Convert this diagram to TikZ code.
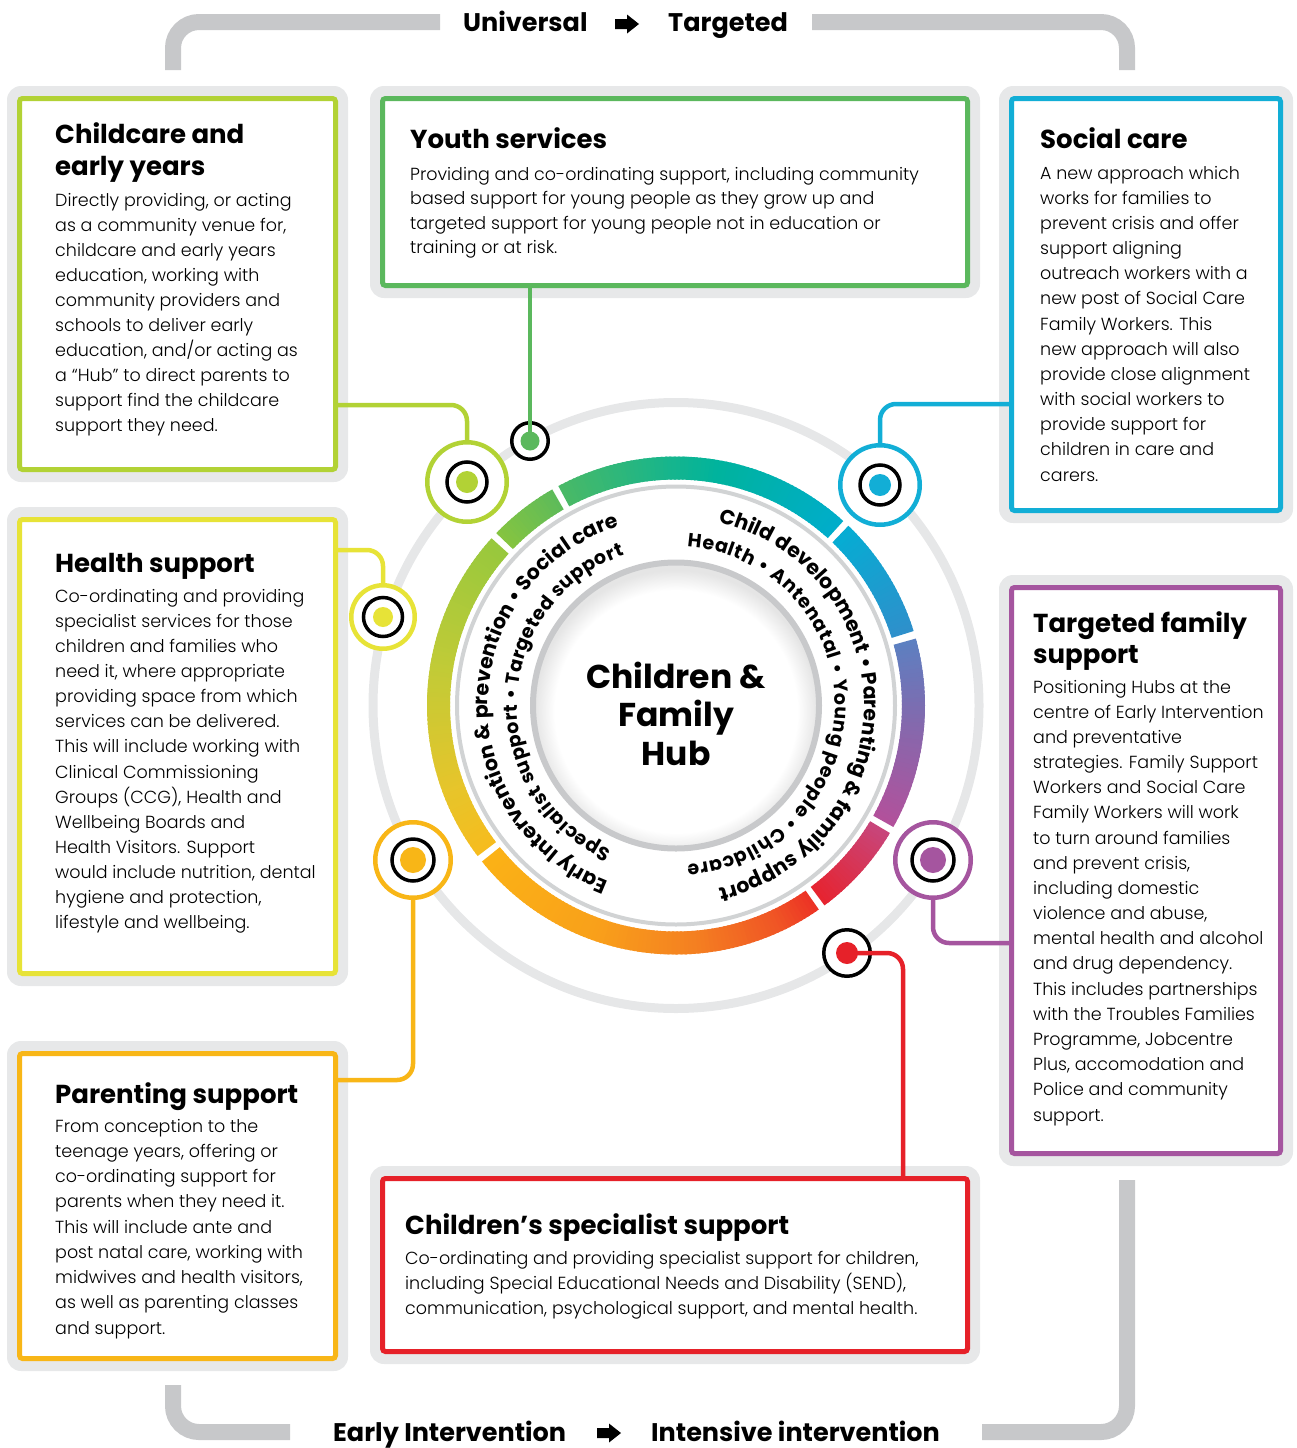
\documentclass[tikz,border=0pt]{standalone}
\usepackage{fontspec}
\setmainfont{Poppins}
\IfFontExistsTF{Poppins Light}{\newfontfamily\bodyfont{Poppins Light}}{\newfontfamily\bodyfont{Poppins}}
\usetikzlibrary{decorations.text}

\definecolor{framegray}{HTML}{E7E8E9}
\definecolor{bracketgray}{HTML}{C7C8CA}
\definecolor{ringgray}{HTML}{E6E7E8}
\definecolor{thingray}{HTML}{D1D3D4}
\definecolor{hubgray}{HTML}{C8C9CB}
\definecolor{cLime}{HTML}{B2D235}
\definecolor{cGreen}{HTML}{5BB85D}
\definecolor{cCyan}{HTML}{12AED6}
\definecolor{cYellow}{HTML}{E7E337}
\definecolor{cPurple}{HTML}{A5559F}
\definecolor{cOrange}{HTML}{F8B617}
\definecolor{cRed}{HTML}{E62129}

\definecolor{cgA}{HTML}{2F8FCB}
\definecolor{cgB}{HTML}{05ADD3}
\definecolor{cgC}{HTML}{00ADCB}
\definecolor{cgD}{HTML}{00B39D}
\definecolor{cgE}{HTML}{4AB966}
\definecolor{cgF}{HTML}{5DBB5A}
\definecolor{cgG}{HTML}{86C440}
\definecolor{cgH}{HTML}{97C83D}
\definecolor{cgI}{HTML}{C0CB37}
\definecolor{cgJ}{HTML}{E6C52B}
\definecolor{cgK}{HTML}{F6BC1E}
\definecolor{cgL}{HTML}{FBB216}
\definecolor{cgM}{HTML}{F9A11A}
\definecolor{cgN}{HTML}{F47F21}
\definecolor{cgO}{HTML}{F05525}
\definecolor{cgP}{HTML}{EC3225}
\definecolor{cgQ}{HTML}{E7232E}
\definecolor{cgR}{HTML}{C7467C}
\definecolor{cgS}{HTML}{B3519B}
\definecolor{cgT}{HTML}{8568AD}
\definecolor{cgU}{HTML}{5C80C1}

\pgfdeclareradialshading{hubsh}{\pgfpoint{0bp}{0bp}}{color(0bp)=(white); color(21.5bp)=(white); color(25bp)=(black!10); color(50bp)=(black!10)}

\newcommand\bodyset[1]{\bodyfont\fontsize{17.5}{#1}\selectfont\raggedright}
\newcommand\headset[1]{\bfseries\fontsize{26}{#1}\selectfont\raggedright}
\newcommand\ringfontA{\bfseries\fontsize{20.5}{20.5}\selectfont}
\newcommand\ringfontB{\bfseries\fontsize{19}{19}\selectfont}

% colored annular segment with linear colour change
\newcommand\cseg[5]{%
  \pgfmathtruncatemacro\rgN{max(1,round((#2-#1)/1.0))}%
  \foreach \k in {1,...,\rgN}{%
    \pgfmathsetmacro\rgA{#1+(#2-#1)*(\k-1)/\rgN}%
    \pgfmathsetmacro\rgB{#1+(#2-#1)*\k/\rgN+ifthenelse(\k==\rgN,#5,0.5)}%
    \pgfmathtruncatemacro\rgP{round(100*(\k-0.5)/\rgN)}%
    \fill[#4!\rgP!#3] (\rgA:226) arc[start angle=\rgA, end angle=\rgB, radius=226]
      -- (\rgB:249) arc[start angle=\rgB, end angle=\rgA, radius=249] -- cycle;
  }}

% box: outer edges of coloured frame x1,y1,x2,y2 (y downwards), colour
\newcommand\hubbox[5]{%
  \fill[framegray, rounded corners=14pt] (#1-10,-#2+10) rectangle (#3+10,-#4-10);
  \draw[#5, line width=5pt, fill=white, rounded corners=3pt] (#1+2.5,-#2-2.5) rectangle (#3-2.5,-#4+2.5);
}

\tikzset{
  bracket/.style={bracketgray, line width=16pt, rounded corners=26pt},
  conn/.style={line width=4.5pt, rounded corners=16pt},
  bigring/.style={circle, draw=#1, line width=4.5pt, fill=white, inner sep=0pt},
  blackring/.style={circle, draw=black, line width=3.5pt, fill=white, inner sep=0pt},
  txt/.style={anchor=base west, inner sep=0pt},
  hdr/.style={anchor=base west, inner sep=0pt, font=\bfseries\fontsize{25.5}{25.5}\selectfont},
  ringtextA/.style={decorate, decoration={text along path, text align=fit to path, text={|\ringfontA|#1}}},
  ringtextB/.style={decorate, decoration={text along path, text align=fit to path, text={|\ringfontB|#1}}}
}

\begin{document}
\begin{tikzpicture}[x=1pt,y=1pt]
\useasboundingbox (0,0) rectangle (1297,-1448);

% brackets
\draw[bracket] (173,-70) -- (173,-22) -- (440,-22);
\draw[bracket] (812,-22) -- (1127,-22) -- (1127,-70);
\draw[bracket] (173,-1385) -- (173,-1432) -- (290,-1432);
\draw[bracket] (982,-1432) -- (1127,-1432) -- (1127,-1180);

% header texts and arrows
\node[hdr] (uni) at (463,-31) {Universal};
\node[hdr] (tar) at (668,-31) {Targeted};
\fill (615,-19) -- (627,-19) -- (627,-14.5) -- (639,-24) -- (627,-33.5) -- (627,-29) -- (615,-29) -- cycle;
\node[hdr] (ear) at (333,-1441) {Early Intervention};
\node[hdr] (int) at (651,-1441) {Intensive intervention};
\fill (597,-1428) -- (609,-1428) -- (609,-1423.5) -- (621,-1433) -- (609,-1442.5) -- (609,-1438) -- (597,-1438) -- cycle;

% boxes
\hubbox{17}{96}{338}{472}{cLime}
\hubbox{380}{96}{970}{288}{cGreen}
\hubbox{1009}{96}{1283}{513}{cCyan}
\hubbox{17}{517}{338}{976}{cYellow}
\hubbox{1009}{585}{1283}{1156}{cPurple}
\hubbox{17}{1051}{338}{1361}{cOrange}
\hubbox{380}{1176}{970}{1354}{cRed}

% central rings
\begin{scope}[shift={(676,-705.5)}]
  \draw[ringgray, line width=9pt] (0,0) circle[radius=303];
  \cseg{17.4}{46.2}{cgA}{cgB}{0}
  \cseg{47.8}{80}{cgC}{cgD}{0.6}
  \cseg{80}{118.2}{cgD}{cgE}{0}
  \cseg{119.8}{136.2}{cgF}{cgG}{0}
  \cseg{137.8}{170}{cgH}{cgI}{0.6}
  \cseg{170}{200}{cgI}{cgJ}{0.6}
  \cseg{200}{217.2}{cgJ}{cgK}{0}
  \cseg{218.8}{250}{cgL}{cgM}{0.6}
  \cseg{250}{275}{cgM}{cgN}{0.6}
  \cseg{275}{295}{cgN}{cgO}{0.6}
  \cseg{295}{305}{cgO}{cgP}{0}
  \cseg{306.6}{329.2}{cgQ}{cgR}{0}
  \cseg{330.8}{355}{cgS}{cgT}{0.6}
  \cseg{355}{375.6}{cgT}{cgU}{0}
  \draw[thingray, line width=4pt] (0,0) circle[radius=219];
  \begin{scope}
    \clip (0,0) circle[radius=142];
    \fill[black!10] (0,0) circle[radius=142];
    \shade[shading=hubsh] (0,-6) circle[radius=141];
  \end{scope}
  \draw[hubgray, line width=6pt] (0,0) circle[radius=143];
  % circular texts
  \path[ringtextA={Child development • Parenting {\&} family support}]
    (77:188) arc[start angle=77, end angle=-76.5, radius=188];
  \path[ringtextB={Health • Antenatal • Young people • Childcare}]
    (86:159) arc[start angle=86, end angle=-86, radius=159];
  \path[ringtextA={Early Intervention {\&} prevention • Social care}]
    (249:188) arc[start angle=249, end angle=107.5, radius=188];
  \path[ringtextB={Specialist support • Targeted support}]
    (246:159) arc[start angle=246, end angle=109, radius=159];
\end{scope}

\node[txt] (hub) at (540,-688) {\parbox[t]{272pt}{\centering\bfseries\fontsize{33}{38.5}\selectfont Children \&\\Family\\Hub}};

% marker circles
\node[bigring=cLime, minimum size=79.5pt] (nLime) at (467,-482) {};
\node[blackring, minimum size=40pt] (nLimeR) at (nLime.center) {};
\node[blackring, minimum size=36.5pt] (nGreen) at (530,-441) {};
\node[bigring=cCyan, minimum size=79.5pt] (nCyan) at (880,-485) {};
\node[blackring, minimum size=40pt] (nCyanR) at (nCyan.center) {};
\node[bigring=cYellow, minimum size=63.5pt] (nYellow) at (383,-617) {};
\node[blackring, minimum size=39pt] (nYellowR) at (nYellow.center) {};
\node[bigring=cOrange, minimum size=75.5pt] (nOrange) at (413,-860) {};
\node[blackring, minimum size=42pt] (nOrangeR) at (nOrange.center) {};
\node[bigring=cPurple, minimum size=75.5pt] (nPurple) at (933,-860) {};
\node[blackring, minimum size=42pt] (nPurpleR) at (nPurple.center) {};
\node[blackring, minimum size=46.5pt] (nRed) at (847,-953) {};

% connectors
\coordinate (pLime) at (336,-405);
\coordinate (pGreen) at (530,-286);
\coordinate (pCyan) at (1011,-404);
\coordinate (pYellow) at (336,-550);
\coordinate (pOrange) at (336,-1080);
\coordinate (pPurple) at (1011,-943);
\coordinate (pRed) at (903,-1178);
\draw[conn, cLime] (pLime) -| (nLime.north);
\draw[conn, cGreen] (pGreen) -- (nGreen.center);
\draw[conn, cCyan] (pCyan) -| (nCyan.north);
\draw[conn, cYellow] (pYellow) -| (nYellow.north);
\draw[conn, cOrange] (pOrange) -| (nOrange.south);
\draw[conn, cPurple] (pPurple) -| (nPurple.south);
\draw[conn, cRed] (nRed.center) -| (pRed);

% dots
\fill[cLime] (nLime.center) circle[radius=11];
\fill[cGreen] (nGreen.center) circle[radius=9.5];
\fill[cCyan] (nCyan.center) circle[radius=11];
\fill[cYellow] (nYellow.center) circle[radius=10];
\fill[cOrange] (nOrange.center) circle[radius=13];
\fill[cPurple] (nPurple.center) circle[radius=13];
\fill[cRed] (nRed.center) circle[radius=11];

% box texts
\node[txt] (hChild) at (55,-143) {\parbox[t]{300pt}{\headset{32}Childcare and\\early years}};
\node[txt] (bChild) at (55,-206) {\parbox[t]{300pt}{\bodyset{25.1}Directly providing, or acting\\as a community venue for,\\childcare and early years\\education, working with\\community providers and\\schools to deliver early\\education, and/or acting as\\a “Hub” to direct parents to\\support find the childcare\\support they need.}};

\node[txt] (hYouth) at (410,-148) {\parbox[t]{560pt}{\headset{32}Youth services}};
\node[txt] (bYouth) at (410,-180) {\parbox[t]{560pt}{\bodyset{24.5}Providing and co-ordinating support, including community\\based support for young people as they grow up and\\targeted support for young people not in education or\\training or at risk.}};

\node[txt] (hSocial) at (1040,-148) {\parbox[t]{300pt}{\headset{32}Social care}};
\node[txt] (bSocial) at (1040,-179) {\parbox[t]{300pt}{\bodyset{25.17}A new approach which\\works for families to\\prevent crisis and offer\\support aligning\\outreach workers with a\\new post of Social Care\\Family Workers. This\\new approach will also\\provide close alignment\\with social workers to\\provide support for\\children in care and\\carers.}};

\node[txt] (hHealth) at (55,-572) {\parbox[t]{300pt}{\headset{32}Health support}};
\node[txt] (bHealth) at (55,-602) {\parbox[t]{300pt}{\bodyset{25.15}Co-ordinating and providing\\specialist services for those\\children and families who\\need it, where appropriate\\providing space from which\\services can be delivered.\\This will include working with\\Clinical Commissioning\\Groups (CCG), Health and\\Wellbeing Boards and\\Health Visitors. Support\\would include nutrition, dental\\hygiene and protection,\\lifestyle and wellbeing.}};

\node[txt] (hTarg) at (1033,-632) {\parbox[t]{300pt}{\headset{31.5}Targeted family\\support}};
\node[txt] (bTarg) at (1033,-693) {\parbox[t]{300pt}{\bodyset{25.18}Positioning Hubs at the\\centre of Early Intervention\\and preventative\\strategies. Family Support\\Workers and Social Care\\Family Workers will work\\to turn around families\\and prevent crisis,\\including domestic\\violence and abuse,\\mental health and alcohol\\and drug dependency.\\This includes partnerships\\with the Troubles Families\\Programme, Jobcentre\\Plus, accomodation and\\Police and community\\support.}};

\node[txt] (hPar) at (55,-1103) {\parbox[t]{300pt}{\headset{32}Parenting support}};
\node[txt] (bPar) at (55,-1132) {\parbox[t]{300pt}{\bodyset{25.25}From conception to the\\teenage years, offering or\\co-ordinating support for\\parents when they need it.\\This will include ante and\\post natal care, working with\\midwives and health visitors,\\as well as parenting classes\\and support.}};

\node[txt] (hSpec) at (405,-1234) {\parbox[t]{560pt}{\headset{32}Children’s specialist support}};
\node[txt] (bSpec) at (405,-1264) {\parbox[t]{560pt}{\bodyset{25}Co-ordinating and providing specialist support for children,\\including Special Educational Needs and Disability (SEND),\\communication, psychological support, and mental health.}};
\end{tikzpicture}
\end{document}
